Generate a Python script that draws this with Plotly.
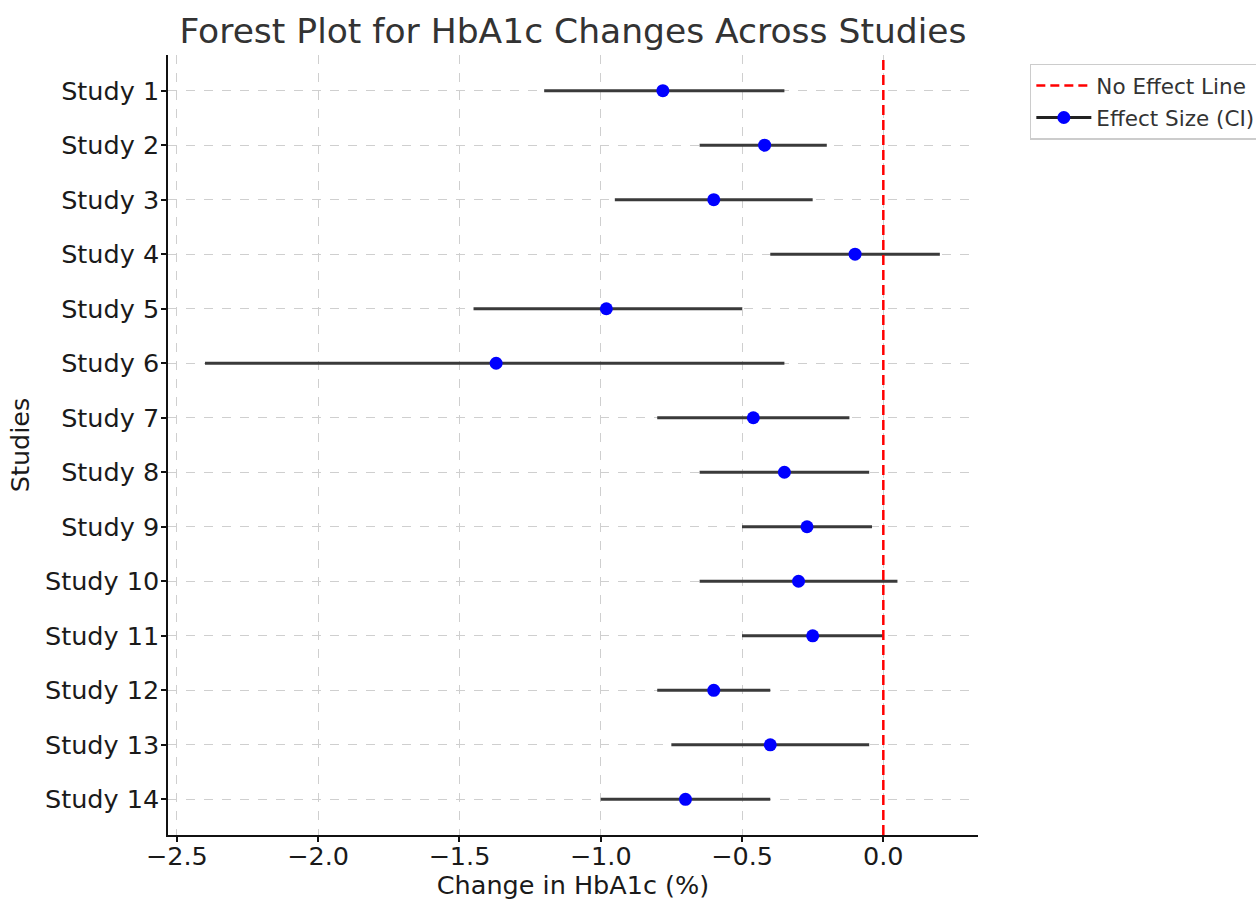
import plotly.graph_objects as go

studies = [f"Study {i}" for i in range(1, 15)]
effect = [-0.78, -0.42, -0.60, -0.10, -0.98, -1.37, -0.46, -0.35, -0.27, -0.30, -0.25, -0.60, -0.40, -0.70]
lower = [-1.20, -0.65, -0.95, -0.40, -1.45, -2.40, -0.80, -0.65, -0.50, -0.65, -0.50, -0.80, -0.75, -1.00]
upper = [-0.35, -0.20, -0.25, 0.20, -0.50, -0.35, -0.12, -0.05, -0.04, 0.05, 0.00, -0.40, -0.05, -0.40]
x_ticks = [-2.5, -2.0, -1.5, -1.0, -0.5, 0.0]
x_tick_labels = ["\u22122.5", "\u22122.0", "\u22121.5", "\u22121.0", "\u22120.5", "0.0"]

err_plus = [u - e for u, e in zip(upper, effect)]
err_minus = [e - l for e, l in zip(effect, lower)]

FONT = "DejaVu Sans"

fig = go.Figure()

# legend entry for the vertical no-effect line
fig.add_trace(go.Scatter(
    x=[None], y=[None], mode="lines", name="No Effect Line", legendgroup="a",
    line=dict(color="red", width=2.5, dash="9px,5px"),
))

# data trace
fig.add_trace(go.Scatter(
    x=effect, y=studies, mode="markers", name="Effect Size (CI)",
    marker=dict(color="blue", size=13),
    error_x=dict(type="data", symmetric=False, array=err_plus, arrayminus=err_minus,
                 color="#3a3a3a", thickness=3, width=0),
    showlegend=False,
))

# legend entry for effect size
fig.add_trace(go.Scatter(
    x=[None], y=[None], mode="lines+markers", name="Effect Size (CI)", legendgroup="b",
    marker=dict(color="blue", size=13),
    line=dict(color="#222222", width=3),
))

fig.add_shape(type="line", x0=0, x1=0, y0=0, y1=1, xref="x", yref="paper",
              line=dict(color="red", width=2.5, dash="10px,5px"))

axis_common = dict(
    showline=True, linecolor="#111111", linewidth=1.5,
    ticks="outside", ticklen=5, tickwidth=1.5, tickcolor="#111111",
    showgrid=True, gridcolor="#cfcfcf", gridwidth=1, griddash="dash",
    zeroline=False, mirror=False,
    tickfont=dict(family=FONT, size=25.5, color="#1a1a1a"),
)

fig.update_xaxes(
    range=[-2.531, 0.335], tickvals=x_ticks, ticktext=x_tick_labels,
    ticklabelstandoff=-7,
    title=dict(text="Change in HbA1c (%)", font=dict(family=FONT, size=25.5, color="#1a1a1a"), standoff=2),
    **axis_common,
)
fig.update_yaxes(
    type="category", categoryorder="array", categoryarray=studies,
    range=[13.655, -0.655],
    ticklabelstandoff=-3,
    title=dict(text="Studies", font=dict(family=FONT, size=25.5, color="#1a1a1a"), standoff=8),
    **axis_common,
)

fig.update_layout(
    width=1256, height=900,
    margin=dict(l=168, r=278, t=55, b=65, autoexpand=False),
    paper_bgcolor="white", plot_bgcolor="white",
    title=dict(text="Forest Plot for HbA1c Changes Across Studies",
               font=dict(family=FONT, size=34.5, color="#333333"),
               x=0.5, xref="paper", xanchor="center",
               y=1 - 31 / 900, yref="container", yanchor="middle"),
    legend=dict(x=1.064, xanchor="left", y=0.989, yanchor="top",
                font=dict(family=FONT, size=21.5, color="#333333"),
                bordercolor="#cccccc", borderwidth=1.5, bgcolor="white",
                tracegroupgap=1, itemwidth=55, traceorder="grouped"),
    showlegend=True,
)

fig.write_html("out.html", config={"displayModeBar": False},
               post_script="document.body.style.margin='0';")
